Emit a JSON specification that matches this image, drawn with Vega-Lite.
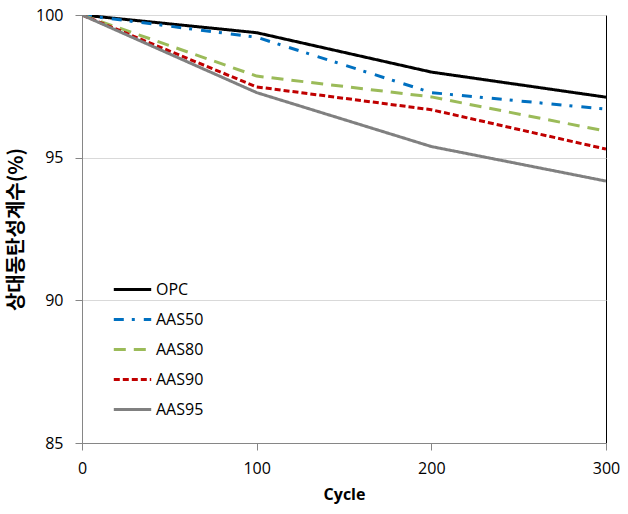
{
  "$schema": "https://vega.github.io/schema/vega-lite/v6.json",
  "autosize": "none",
  "width": 524,
  "height": 428,
  "padding": {"left": 82, "top": 15, "right": 22, "bottom": 71},
  "background": "white",
  "config": {
    "view": {"stroke": "black", "strokeWidth": 1},
    "font": "Open Sans"
  },
  "data": {
    "values": [
      {"cycle": 0, "value": 100, "series": "OPC"},
      {"cycle": 100, "value": 99.38, "series": "OPC"},
      {"cycle": 200, "value": 98.0, "series": "OPC"},
      {"cycle": 300, "value": 97.12, "series": "OPC"},
      {"cycle": 0, "value": 100, "series": "AAS50"},
      {"cycle": 100, "value": 99.22, "series": "AAS50"},
      {"cycle": 200, "value": 97.28, "series": "AAS50"},
      {"cycle": 300, "value": 96.7, "series": "AAS50"},
      {"cycle": 0, "value": 100, "series": "AAS80"},
      {"cycle": 100, "value": 97.86, "series": "AAS80"},
      {"cycle": 200, "value": 97.13, "series": "AAS80"},
      {"cycle": 300, "value": 95.93, "series": "AAS80"},
      {"cycle": 0, "value": 100, "series": "AAS90"},
      {"cycle": 100, "value": 97.48, "series": "AAS90"},
      {"cycle": 200, "value": 96.68, "series": "AAS90"},
      {"cycle": 300, "value": 95.3, "series": "AAS90"},
      {"cycle": 0, "value": 100, "series": "AAS95"},
      {"cycle": 100, "value": 97.28, "series": "AAS95"},
      {"cycle": 200, "value": 95.39, "series": "AAS95"},
      {"cycle": 300, "value": 94.18, "series": "AAS95"}
    ]
  },
  "mark": {"type": "line", "strokeWidth": 3, "strokeCap": "butt", "clip": true},
  "encoding": {
    "x": {
      "field": "cycle", "type": "quantitative",
      "scale": {"domain": [0, 300], "nice": false},
      "axis": {
        "values": [0, 100, 200, 300], "grid": false, "labelFlush": false,
        "title": "Cycle", "titleFont": "Open Sans", "titleFontSize": 16, "titleFontWeight": "bold",
        "titleColor": "black", "titlePadding": 10,
        "labelFontSize": 16, "labelColor": "black", "labelFont": "Open Sans", "labelPadding": 10,
        "domainColor": "#868686", "tickColor": "#868686", "tickSize": 7
      }
    },
    "y": {
      "field": "value", "type": "quantitative",
      "scale": {"domain": [85, 100], "nice": false, "zero": false},
      "axis": {
        "values": [85, 90, 95, 100], "grid": true, "gridColor": "#D9D9D9", "labelFlush": false,
        "title": "상대동탄성계수(%)", "titleFont": "Noto Sans CJK KR", "titleFontSize": 20, "titleFontWeight": "bold",
        "titleColor": "black", "titlePadding": 9,
        "labelFontSize": 16, "labelColor": "black", "labelFont": "Open Sans", "labelPadding": 12,
        "domainColor": "#868686", "tickColor": "#868686", "tickSize": 7
      }
    },
    "color": {
      "field": "series", "type": "nominal",
      "scale": {
        "domain": ["OPC", "AAS50", "AAS80", "AAS90", "AAS95"],
        "range": ["#000000", "#0070C0", "#9BBB59", "#C00000", "#808080"]
      },
      "legend": {
        "orient": "none", "legendX": 30, "legendY": 254,
        "title": null, "symbolType": "stroke", "symbolSize": 1400, "symbolStrokeWidth": 3,
        "labelFontSize": 16, "labelFont": "Open Sans", "labelColor": "black",
        "rowPadding": 1, "labelOffset": 3
      }
    },
    "strokeDash": {
      "field": "series", "type": "nominal",
      "scale": {
        "domain": ["OPC", "AAS50", "AAS80", "AAS90", "AAS95"],
        "range": [[1, 0], [10, 8, 3, 9], [12, 8], [6, 3], [1, 0]]
      },
      "legend": {
        "orient": "none", "legendX": 30, "legendY": 254,
        "title": null, "symbolType": "stroke", "symbolSize": 1400, "symbolStrokeWidth": 3,
        "labelFontSize": 16, "labelFont": "Open Sans", "labelColor": "black",
        "rowPadding": 1, "labelOffset": 3
      }
    }
  }
}
